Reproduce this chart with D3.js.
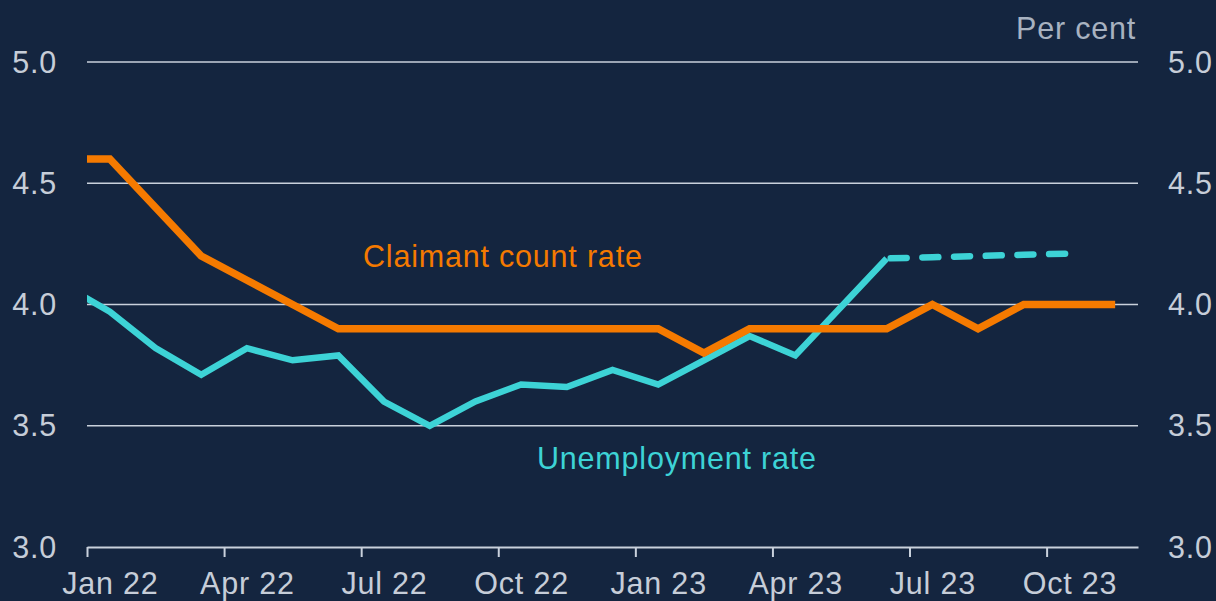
<!DOCTYPE html>
<html>
<head>
<meta charset="utf-8">
<script src="https://cdn.jsdelivr.net/npm/d3@7"></script>
<style>
  html, body { margin: 0; padding: 0; background: #14253f; }
  svg { display: block; }
  text { font-family: "Liberation Sans", Arial, sans-serif; }
</style>
</head>
<body>
<svg id="chart" width="1216" height="601"></svg>
<script>
// Months are indexed from Dec 21 (-1); each value sits at mid-month.
const monthIndex = [-1, 0, 1, 2, 3, 4, 5, 6, 7, 8, 9, 10, 11, 12, 13, 14, 15, 16, 17, 18, 19, 20, 21, 22];

// Claimant count rate, Dec 21 – Nov 23 (per cent)
const claimantRate = [4.6, 4.6, 4.4, 4.2, 4.1, 4.0, 3.9, 3.9, 3.9, 3.9, 3.9, 3.9, 3.9, 3.9, 3.8, 3.9, 3.9, 3.9, 3.9, 4.0, 3.9, 4.0, 4.0, 4.0];

// Unemployment rate, Dec 21 – Jun 23 (per cent)
const unemploymentRate = [4.08, 3.97, 3.82, 3.71, 3.82, 3.77, 3.79, 3.60, 3.50, 3.60, 3.67, 3.66, 3.73, 3.67, 3.77, 3.87, 3.79, 3.99, 4.19];

// Unemployment rate projection, Jun 23 – Oct 23 (per cent)
const projectionMonths = [17, 18, 19, 20, 21];
const projectionRate = [4.19, 4.195, 4.2, 4.205, 4.21];

// Axis ticks
const xTickMonths = [0, 3, 6, 9, 12, 15, 18, 21];
const xTickLabels = ["Jan 22", "Apr 22", "Jul 22", "Oct 22", "Jan 23", "Apr 23", "Jul 23", "Oct 23"];
const yTicks = [3.0, 3.5, 4.0, 4.5, 5.0];

const colors = {
  claimant: "#f57a00",
  unemployment: "#3dd3d6",
  grid: "#c9d1dc",
  text: "#c6cdd8",
  unit: "#a8b2c0"
};

const svg = d3.select("#chart");
const plotLeft = 87, plotRight = 1138, plotTop = 62, plotBottom = 547;

const x = d3.scaleLinear().domain([0, 23]).range([plotLeft, plotRight]);
const y = d3.scaleLinear().domain([3, 5]).range([plotBottom, plotTop]);

// clip so the Dec 21 lead-in starts at the axis edge
svg.append("defs").append("clipPath").attr("id", "plot")
  .append("rect").attr("x", plotLeft).attr("y", 0).attr("width", plotRight - plotLeft).attr("height", 601);

const labelStyle = sel => sel
  .attr("font-size", 30.5)
  .attr("letter-spacing", 0.8);

// horizontal gridlines (3.0 is drawn by the x axis)
svg.append("g").selectAll("line")
  .data(yTicks.filter(d => d > 3))
  .join("line")
  .attr("x1", plotLeft).attr("x2", plotRight)
  .attr("y1", d => y(d)).attr("y2", d => y(d))
  .attr("stroke", colors.grid)
  .attr("stroke-width", 1.5);

// left and right value axes
const yFmt = d3.format(".1f");
svg.append("g").selectAll("text")
  .data(yTicks).join("text")
  .attr("x", 57).attr("y", d => y(d)).attr("dy", "0.35em")
  .attr("text-anchor", "end")
  .attr("fill", colors.text)
  .call(labelStyle)
  .text(yFmt);
svg.append("g").selectAll("text")
  .data(yTicks).join("text")
  .attr("x", 1168).attr("y", d => y(d)).attr("dy", "0.35em")
  .attr("text-anchor", "start")
  .attr("fill", colors.text)
  .call(labelStyle)
  .text(yFmt);

// x axis: ticks at month starts, labels centred on the month
const xAxis = d3.axisBottom(x)
  .tickValues(xTickMonths)
  .tickFormat((d, i) => xTickLabels[i])
  .tickSize(10)
  .tickSizeOuter(0)
  .tickPadding(15);

const gx = svg.append("g")
  .attr("transform", `translate(0,${plotBottom})`)
  .call(xAxis);
gx.select(".domain").attr("stroke", colors.grid).attr("stroke-width", 2);
gx.selectAll(".tick line").attr("stroke", colors.grid).attr("stroke-width", 2);
gx.selectAll(".tick text")
  .attr("fill", colors.text)
  .attr("font-family", "Liberation Sans, Arial, sans-serif")
  .call(labelStyle)
  .attr("x", x(0.5) - x(0))
  .attr("dy", "0.71em");

// unit label
svg.append("text")
  .attr("x", 1136).attr("y", 39)
  .attr("text-anchor", "end")
  .attr("fill", colors.unit)
  .call(labelStyle)
  .text("Per cent");

const line = d3.line()
  .x(d => x(d[0] + 0.5))
  .y(d => y(d[1]));

const plot = svg.append("g").attr("clip-path", "url(#plot)");

plot.append("path")
  .datum(unemploymentRate.map((v, i) => [monthIndex[i], v]))
  .attr("d", line)
  .attr("fill", "none")
  .attr("stroke", colors.unemployment)
  .attr("stroke-width", 6.5)
  .attr("stroke-linejoin", "miter");

plot.append("path")
  .datum(projectionRate.map((v, i) => [projectionMonths[i], v]))
  .attr("d", line)
  .attr("fill", "none")
  .attr("stroke", colors.unemployment)
  .attr("stroke-width", 6.5)
  .attr("stroke-linecap", "round")
  .attr("stroke-dasharray", "16 15.7")
  .attr("stroke-dashoffset", -4);

plot.append("path")
  .datum(claimantRate.map((v, i) => [monthIndex[i], v]))
  .attr("d", line)
  .attr("fill", "none")
  .attr("stroke", colors.claimant)
  .attr("stroke-width", 7.5)
  .attr("stroke-linejoin", "miter");

// series labels
svg.append("text")
  .attr("x", 363).attr("y", 267)
  .attr("fill", colors.claimant)
  .call(labelStyle)
  .text("Claimant count rate");

svg.append("text")
  .attr("x", 537).attr("y", 469)
  .attr("fill", colors.unemployment)
  .call(labelStyle)
  .text("Unemployment rate");
</script>
</body>
</html>
